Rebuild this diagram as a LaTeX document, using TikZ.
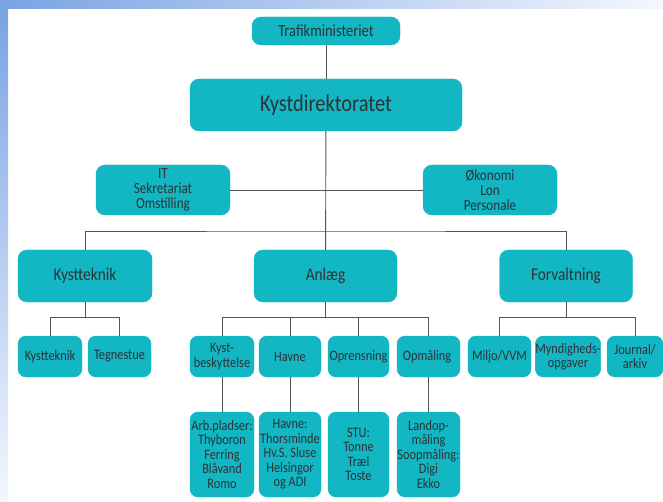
\documentclass[tikz,border=0pt]{standalone}
\usepackage{fontspec}
\setmainfont{Carlito}[FakeStretch=0.85]
\definecolor{boxteal}{RGB}{18,183,195}
\definecolor{linegray}{RGB}{85,85,85}
\definecolor{textgray}{RGB}{45,50,55}
\definecolor{slideblue}{RGB}{122,163,227}
\definecolor{slidepale}{RGB}{244,247,254}
\begin{document}
\begin{tikzpicture}[x=1pt, y=-1pt,
    unit/.style={fill=boxteal, draw=boxteal, rounded corners=9pt, inner sep=0pt,
      text=textgray, align=center},
    big/.style={unit, font=\fontsize{24}{26}\selectfont},
    mid/.style={unit, font=\fontsize{15.5}{15}\selectfont},
    small/.style={unit, rounded corners=8pt, font=\fontsize{14.5}{14.5}\selectfont},
    link/.style={draw=linegray, line width=0.9pt}]

  % Slide background
  \useasboundingbox (0, 0) rectangle (663, 502);
  \fill [white] (0, 0) rectangle (663, 502);
  \shade [left color=slideblue, right color=slidepale] (0, 0) rectangle (663, 9);
  \shade [top color=slideblue, bottom color=slidepale] (0, 9) rectangle (8, 502);

  % Top of the chart
  \node [mid, font=\fontsize{17}{17}\selectfont, minimum width=148, minimum height=28]
    (trafik) at (326, 31) {Trafikministeriet};
  \node [big, minimum width=272, minimum height=52] (kystdir) at (326, 105) {Kystdirektoratet};

  % Staff functions
  \node [mid, minimum width=134, minimum height=50] (it) at (163, 190)
    {IT\\Sekretariat\\Omstilling};
  \node [mid, minimum width=134, minimum height=50] (oko) at (490, 190)
    {Økonomi\\Lon\\Personale};

  % Departments
  \node [mid, font=\fontsize{18}{18}\selectfont, minimum width=134, minimum height=52]
    (kyst) at (85, 276) {Kystteknik};
  \node [mid, font=\fontsize{18}{18}\selectfont, minimum width=143, minimum height=52]
    (anlaeg) at (325.5, 276) {Anlæg};
  \node [mid, font=\fontsize{18}{18}\selectfont, minimum width=133, minimum height=52]
    (forv) at (566, 276) {Forvaltning};

  % Sections, one line of text
  \foreach \nm/\xpos/\bw/\txt in {
    k1/50/64/Kystteknik,
    k2/119.5/63/Tegnestue,
    a2/290/62/Havne,
    a3/358.5/61/Oprensning,
    a4/428.5/63/Opmåling
  } {
    \node [small, minimum width=\bw, minimum height=41] (\nm) at (\xpos, 356.5) {\txt};
  }
  % Sections, two lines of text
  \node [small, minimum width=64, minimum height=41] (a1) at (222, 356.5) {Kyst-\\beskyttelse};
  \node [small, minimum width=63, minimum height=41] (f1) at (499.5, 356.5) {Miljo/VVM};
  \node [small, minimum width=62, minimum height=41] (f2) at (568, 356.5) {Myndigheds-\\opgaver};
  \node [small, minimum width=56, minimum height=41] (f3) at (635, 356.5) {Journal/\\arkiv};

  % Details under Anlæg
  \node [small, minimum width=64, minimum height=85] (b1) at (222, 454.5)
    {Arb.pladser:\\Thyboron\\Ferring\\Blåvand\\Romo};
  \node [small, minimum width=62, minimum height=85] (b2) at (290, 454.5)
    {Havne:\\Thorsminde\\Hv.S. Sluse\\Helsingor\\og ADI};
  \node [small, minimum width=61, minimum height=85] (b3) at (358.5, 454.5)
    {STU:\\Tonne\\Træl\\Toste};
  \node [small, minimum width=63, minimum height=85] (b4) at (428.5, 454.5)
    {Landop-\\måling\\Soopmåling:\\Digi\\Ekko};

  % Connectors
  \coordinate (bus) at (325.5, 231);
  \draw [link] (trafik) -- (kystdir);
  \draw [link] (kystdir) -- (anlaeg);
  \draw [link] (it) -- (oko);
  \draw [link] (kyst.north) |- (bus) -| (forv.north);

  \foreach \c in {k1, k2}
    \draw [link] (kyst.south) -- ++(0, 15) -| (\c.north);
  \foreach \c in {a1, a2, a3, a4}
    \draw [link] (anlaeg.south) -- ++(0, 15) -| (\c.north);
  \foreach \c in {f1, f3}
    \draw [link] (forv.south) -- ++(0, 15) -| (\c.north);
  \foreach \i in {1, 2, 3, 4}
    \draw [link] (a\i) -- (b\i);

\end{tikzpicture}
\end{document}
